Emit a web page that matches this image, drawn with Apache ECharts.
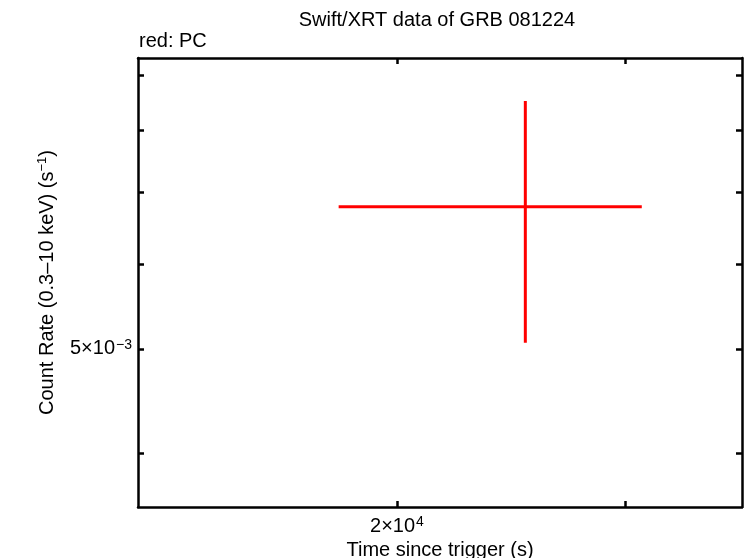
<!DOCTYPE html>
<html>
<head>
<meta charset="utf-8">
<script src="https://cdn.jsdelivr.net/npm/echarts@6/dist/echarts.min.js"></script>
<style>html,body{margin:0;padding:0;background:#fff}#c{width:746px;height:558px}</style>
</head>
<body>
<div id="c"></div>
<script>
// Data (PC mode point)
const timeCenter = [25115];
const timeLow = [18035];
const timeHigh = [30878];
const rateCenter = [6.782e-3];
const rateLow = [5.068e-3];
const rateHigh = [8.512e-3];
// Axis ticks
const xTicks = [20000, 30000];
const xLabels = [20000];
const yTicks = [0.004, 0.005, 0.006, 0.007, 0.008, 0.009];
const yLabels = [0.005];
const xRange = [12634, 36885];
const yRange = [3.562e-3, 9.334e-3];

const FONT = 'Liberation Sans, Arial, Helvetica, sans-serif';
const rich = {
  b: {fontFamily: FONT, fontSize: 20, color: '#000'},
  s: {fontFamily: FONT, fontSize: 14, color: '#000', verticalAlign: 'top', padding: [0,0,8,1]}
};
function sci(v) {
  const e = Math.floor(Math.log10(v) + 1e-9);
  const m = Math.round(v / Math.pow(10, e));
  const exp = e < 0 ? '\u2212' + (-e) : String(e);
  return '{b|' + m + '\u00d710}{s|' + exp + '}';
}

const series = [];
for (let i = 0; i < timeCenter.length; i++) {
  series.push({
    type: 'line', symbol: 'none', silent: true, animation: false,
    lineStyle: {color: '#ff0000', width: 3},
    data: [[timeLow[i], rateCenter[i]], [timeHigh[i], rateCenter[i]]]
  });
  series.push({
    type: 'line', symbol: 'none', silent: true, animation: false,
    lineStyle: {color: '#ff0000', width: 3},
    data: [[timeCenter[i], rateLow[i]], [timeCenter[i], rateHigh[i]]]
  });
}

const axisLineStyle = {show: true, lineStyle: {color: '#000', width: 2.5}};
const tickStyle = {color: '#000', width: 2.5};
const chart = echarts.init(document.getElementById('c'), null, {renderer: 'canvas'});
chart.setOption({
  animation: false,
  backgroundColor: '#fff',
  title: [
    {text: 'Swift/XRT data of GRB 081224', left: 437, top: 10, padding: 0, textAlign: 'center',
     textStyle: {fontFamily: FONT, fontSize: 20, fontWeight: 'normal', color: '#000'}},
    {text: 'red: PC', left: 139, top: 31, padding: 0,
     textStyle: {fontFamily: FONT, fontSize: 20, fontWeight: 'normal', color: '#000'}}
  ],
  grid: {left: 138, right: 4, top: 58, bottom: 51, containLabel: false, outerBoundsMode: 'none'},
  xAxis: [
    {type: 'log', min: xRange[0], max: xRange[1], position: 'bottom',
     name: 'Time since trigger (s)', nameLocation: 'middle', nameGap: 30,
     nameTextStyle: {fontFamily: FONT, fontSize: 20, color: '#000'},
     axisLine: axisLineStyle,
     axisTick: {show: true, inside: true, length: 6, lineStyle: tickStyle, customValues: xTicks},
     axisLabel: {show: true, margin: 8, customValues: xLabels, formatter: v => sci(v), rich: rich},
     minorTick: {show: false}, splitLine: {show: false}},
    {type: 'log', min: xRange[0], max: xRange[1], position: 'top',
     axisLine: axisLineStyle,
     axisTick: {show: true, inside: true, length: 6, lineStyle: tickStyle, customValues: xTicks},
     axisLabel: {show: false}, splitLine: {show: false}}
  ],
  yAxis: [
    {type: 'log', min: yRange[0], max: yRange[1], position: 'left',
     name: 'Count Rate (0.3\u201310 keV) (s{s|\u22121})', nameLocation: 'middle', nameGap: 80,
     nameTextStyle: {fontFamily: FONT, fontSize: 20, color: '#000',
       rich: {s: {fontFamily: FONT, fontSize: 13, color: '#000', verticalAlign: 'top', padding: [0,0,9,0]}}},
     axisLine: axisLineStyle,
     axisTick: {show: true, inside: true, length: 6, lineStyle: tickStyle, customValues: yTicks},
     axisLabel: {show: true, margin: 6, customValues: yLabels, formatter: v => sci(v), rich: rich},
     splitLine: {show: false}},
    {type: 'log', min: yRange[0], max: yRange[1], position: 'right',
     axisLine: axisLineStyle,
     axisTick: {show: true, inside: true, length: 6, lineStyle: tickStyle, customValues: yTicks},
     axisLabel: {show: false}, splitLine: {show: false}}
  ],
  series: series
});
</script>
</body>
</html>
